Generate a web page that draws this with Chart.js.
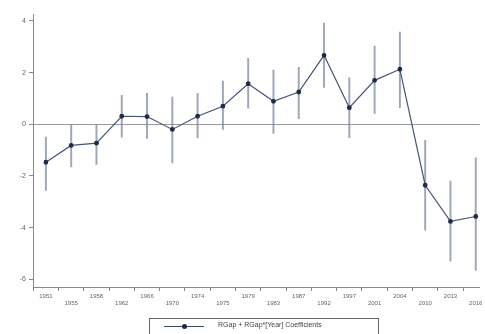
<!DOCTYPE html>
<html><head><meta charset="utf-8">
<script src="https://cdn.jsdelivr.net/npm/chart.js@4"></script>
<style>
html,body{margin:0;padding:0;background:#fff;}
#wrap{position:relative;width:485px;height:334px;}
#legend{position:absolute;left:149px;top:318px;width:230px;height:22px;border:1px solid #666;box-sizing:border-box;font-family:"Liberation Sans",Arial,sans-serif;font-size:7px;color:#444;}
#legend .ln{position:absolute;left:14px;top:7px;width:40px;height:1px;background:#3b4a6b;}
#legend .dt{position:absolute;left:32px;top:5px;width:5px;height:5px;border-radius:50%;background:#1f2b44;}
#legend .tx{position:absolute;left:68px;top:2px;}
</style></head>
<body><div id="wrap"><canvas id="c" width="485" height="334"></canvas>
<div id="legend"><div class="ln"></div><div class="dt"></div><span class="tx">RGap + RGap*[Year] Coefficients</span></div></div>
<script>
const years = ['1951','1955','1958','1962','1966','1970','1974','1975','1979','1983','1987','1992','1997','2001','2004','2010','2013','2016'];
const coef  = [-1.47,-0.82,-0.73,0.31,0.30,-0.20,0.31,0.70,1.57,0.89,1.25,2.67,0.64,1.70,2.13,-2.36,-3.76,-3.57];
const ciLow = [-2.56,-1.65,-1.55,-0.50,-0.55,-1.50,-0.53,-0.20,0.62,-0.35,0.22,1.43,-0.52,0.42,0.64,-4.10,-5.30,-5.66];
const ciHigh= [-0.50,0.00,0.00,1.12,1.20,1.05,1.20,1.67,2.55,2.10,2.20,3.92,1.80,3.03,3.57,-0.62,-2.20,-1.30];
const yTicks = [-6,-4,-2,0,2,4];

new Chart(document.getElementById('c'), {
  data: {
    datasets: [
      { type:'bar', label:'CI', data: years.map((y,i)=>({x:i, y:[ciLow[i], ciHigh[i]]})),
        backgroundColor:'rgba(125,138,160,0.75)', barThickness:1.3, order:2 },
      { type:'line', label:'RGap + RGap*[Year] Coefficients', data: years.map((y,i)=>({x:i, y:coef[i]})),
        borderColor:'#45557a', borderWidth:1.2, pointRadius:1.8, pointBackgroundColor:'#1f2b44',
        pointBorderColor:'#1f2b44', tension:0, order:1 }
    ]
  },
  options: {
    responsive:false, animation:false,
    layout:{padding:{top:14.5, left:0, right:0, bottom:0}},
    plugins:{legend:{display:false}, tooltip:{enabled:false}},
    scales:{
      x:{ type:'linear', min:-0.51, max:17.16, offset:false,
        afterBuildTicks: s => { s.ticks = years.map((y,i)=>({value:i})); },
        afterFit: s => { s.height = 47; },
        grid:{ drawOnChartArea:false, drawTicks:true, tickLength:4, tickColor:'#888', color:'#888' },
        border:{ color:'#888', width:1 },
        ticks:{ autoSkip:false, maxRotation:0, padding:2, color:'#666',
          font:{family:'Liberation Sans', size:6, lineHeight:1.2},
          callback: (v) => { const i = Math.round(v); return i % 2 === 0 ? [years[i], ''] : ['', years[i]]; } }
      },
      y:{ type:'linear', min:-6.3, max:4.25,
        afterBuildTicks: s => { s.ticks = yTicks.map(v=>({value:v})); },
        afterFit: s => { s.width = 33; },
        grid:{ drawTicks:true, tickLength:4, tickColor:'#888',
          color: c => (c.tick && c.tick.value === 0) ? '#9a9a9a' : 'rgba(0,0,0,0)', lineWidth:1 },
        border:{ color:'#888', width:1 },
        ticks:{ padding:3, color:'#666', font:{family:'Liberation Sans', size:7} }
      }
    }
  }
});
</script></body></html>
